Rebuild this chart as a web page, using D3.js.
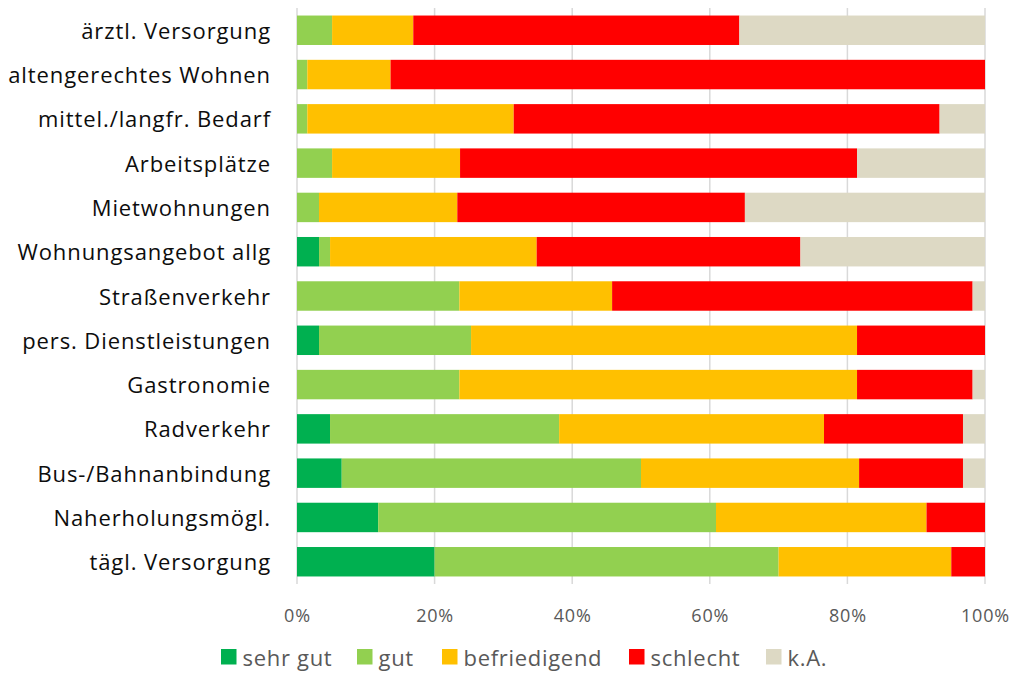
<!DOCTYPE html>
<html>
<head>
<meta charset="utf-8">
<script src="https://cdn.jsdelivr.net/npm/d3@7"></script>
<style>
  body { margin: 0; background: #fff; }
  svg text { font-family: "Open Sans", "DejaVu Sans", sans-serif; }
</style>
</head>
<body>
<svg id="chart" width="1016" height="673"></svg>
<script>
// categories top to bottom
const categories = [
  "ärztl. Versorgung", "altengerechtes Wohnen", "mittel./langfr. Bedarf", "Arbeitsplätze",
  "Mietwohnungen", "Wohnungsangebot allg", "Straßenverkehr", "pers. Dienstleistungen",
  "Gastronomie", "Radverkehr", "Bus-/Bahnanbindung", "Naherholungsmögl.", "tägl. Versorgung"
];
const seriesNames = ["sehr gut", "gut", "befriedigend", "schlecht", "k.A."];
// percent values per series, same order as categories
const sehrGut      = [0,   0,    0,    0,    0,    3.2, 0,    3.2,  0,    4.8,  6.5,  11.8, 20.0];
const gut          = [5.1, 1.5,  1.5,  5.1,  3.2,  1.6, 23.6, 22.1, 23.6, 33.3, 43.5, 49.1, 50.0];
const befriedigend = [11.8,12.1, 30.0, 18.6, 20.1, 30.0,22.2, 56.1, 57.8, 38.5, 31.7, 30.6, 25.1];
const schlecht     = [47.4,86.4, 61.9, 57.7, 41.8, 38.3,52.4, 18.6, 16.8, 20.2, 15.1, 8.5,  4.9];
const kA           = [35.7,0,    6.6,  18.6, 34.9, 26.8,1.8,  0,    1.8,  3.2,  3.2,  0,    0];
const tickValues = [0, 0.2, 0.4, 0.6, 0.8, 1.0];
const colors = ["#00b050", "#92d050", "#ffc000", "#ff0000", "#ddd9c4"];

const seriesData = [sehrGut, gut, befriedigend, schlecht, kA];
const rows = categories.map((c, i) => {
  const r = { cat: c };
  seriesNames.forEach((s, j) => r[s] = seriesData[j][i]);
  return r;
});

const svg = d3.select('#chart');
const plotLeft = 297, plotRight = 985, plotTop = 8, plotBottom = 584;

const x = d3.scaleLinear().domain([0, 1]).range([plotLeft, plotRight]);
const y = d3.scaleBand().domain(categories).range([plotTop, plotBottom]).paddingInner(0.335).paddingOuter(0.17);

const stack = d3.stack().keys(seriesNames).offset(d3.stackOffsetExpand);
const layers = stack(rows);

// gridlines
svg.append('g')
  .selectAll('line')
  .data(tickValues)
  .join('line')
  .attr('x1', d => x(d)).attr('x2', d => x(d))
  .attr('y1', plotTop).attr('y2', plotBottom)
  .attr('stroke', '#d9d9d9').attr('stroke-width', 1.5);

// bars
svg.append('g')
  .selectAll('g')
  .data(layers)
  .join('g')
  .attr('fill', (d, i) => colors[i])
  .selectAll('rect')
  .data(d => d)
  .join('rect')
  .attr('x', d => x(d[0]))
  .attr('width', d => x(d[1]) - x(d[0]))
  .attr('y', d => y(d.data.cat))
  .attr('height', y.bandwidth());

// category labels
svg.append('g')
  .selectAll('text')
  .data(categories)
  .join('text')
  .attr('x', 271)
  .attr('y', d => y(d) + y.bandwidth() / 2)
  .attr('dy', '0.39em')
  .attr('text-anchor', 'end')
  .attr('fill', '#0d0d0d')
  .style('font-size', '22px')
  .style('letter-spacing', '0.9px')
  .text(d => d);

// x axis tick labels
const xAxis = d3.axisBottom(x).tickValues(tickValues).tickFormat(d3.format('.0%')).tickSize(0).tickPadding(0);
const axisG = svg.append('g').attr('transform', `translate(0, 622)`).call(xAxis);
axisG.select('.domain').remove();
axisG.selectAll('text')
  .attr('dy', null)
  .attr('y', 0)
  .attr('fill', '#595959')
  .style('font-size', '18px')
  .style('letter-spacing', '0.8px')
  .style('font-family', '"Open Sans", sans-serif');

// legend
const legendX = [221, 357, 442, 629, 766];
const legend = svg.append('g')
  .selectAll('g')
  .data(seriesNames)
  .join('g')
  .attr('transform', (d, i) => `translate(${legendX[i]}, 649)`);
legend.append('rect').attr('width', 15.5).attr('height', 15.5).attr('fill', (d, i) => colors[i]);
legend.append('text')
  .attr('x', 21.5).attr('y', 17)
  .attr('fill', '#595959')
  .style('font-size', '22px')
  .style('letter-spacing', '0.7px')
  .text(d => d);
</script>
</body>
</html>
